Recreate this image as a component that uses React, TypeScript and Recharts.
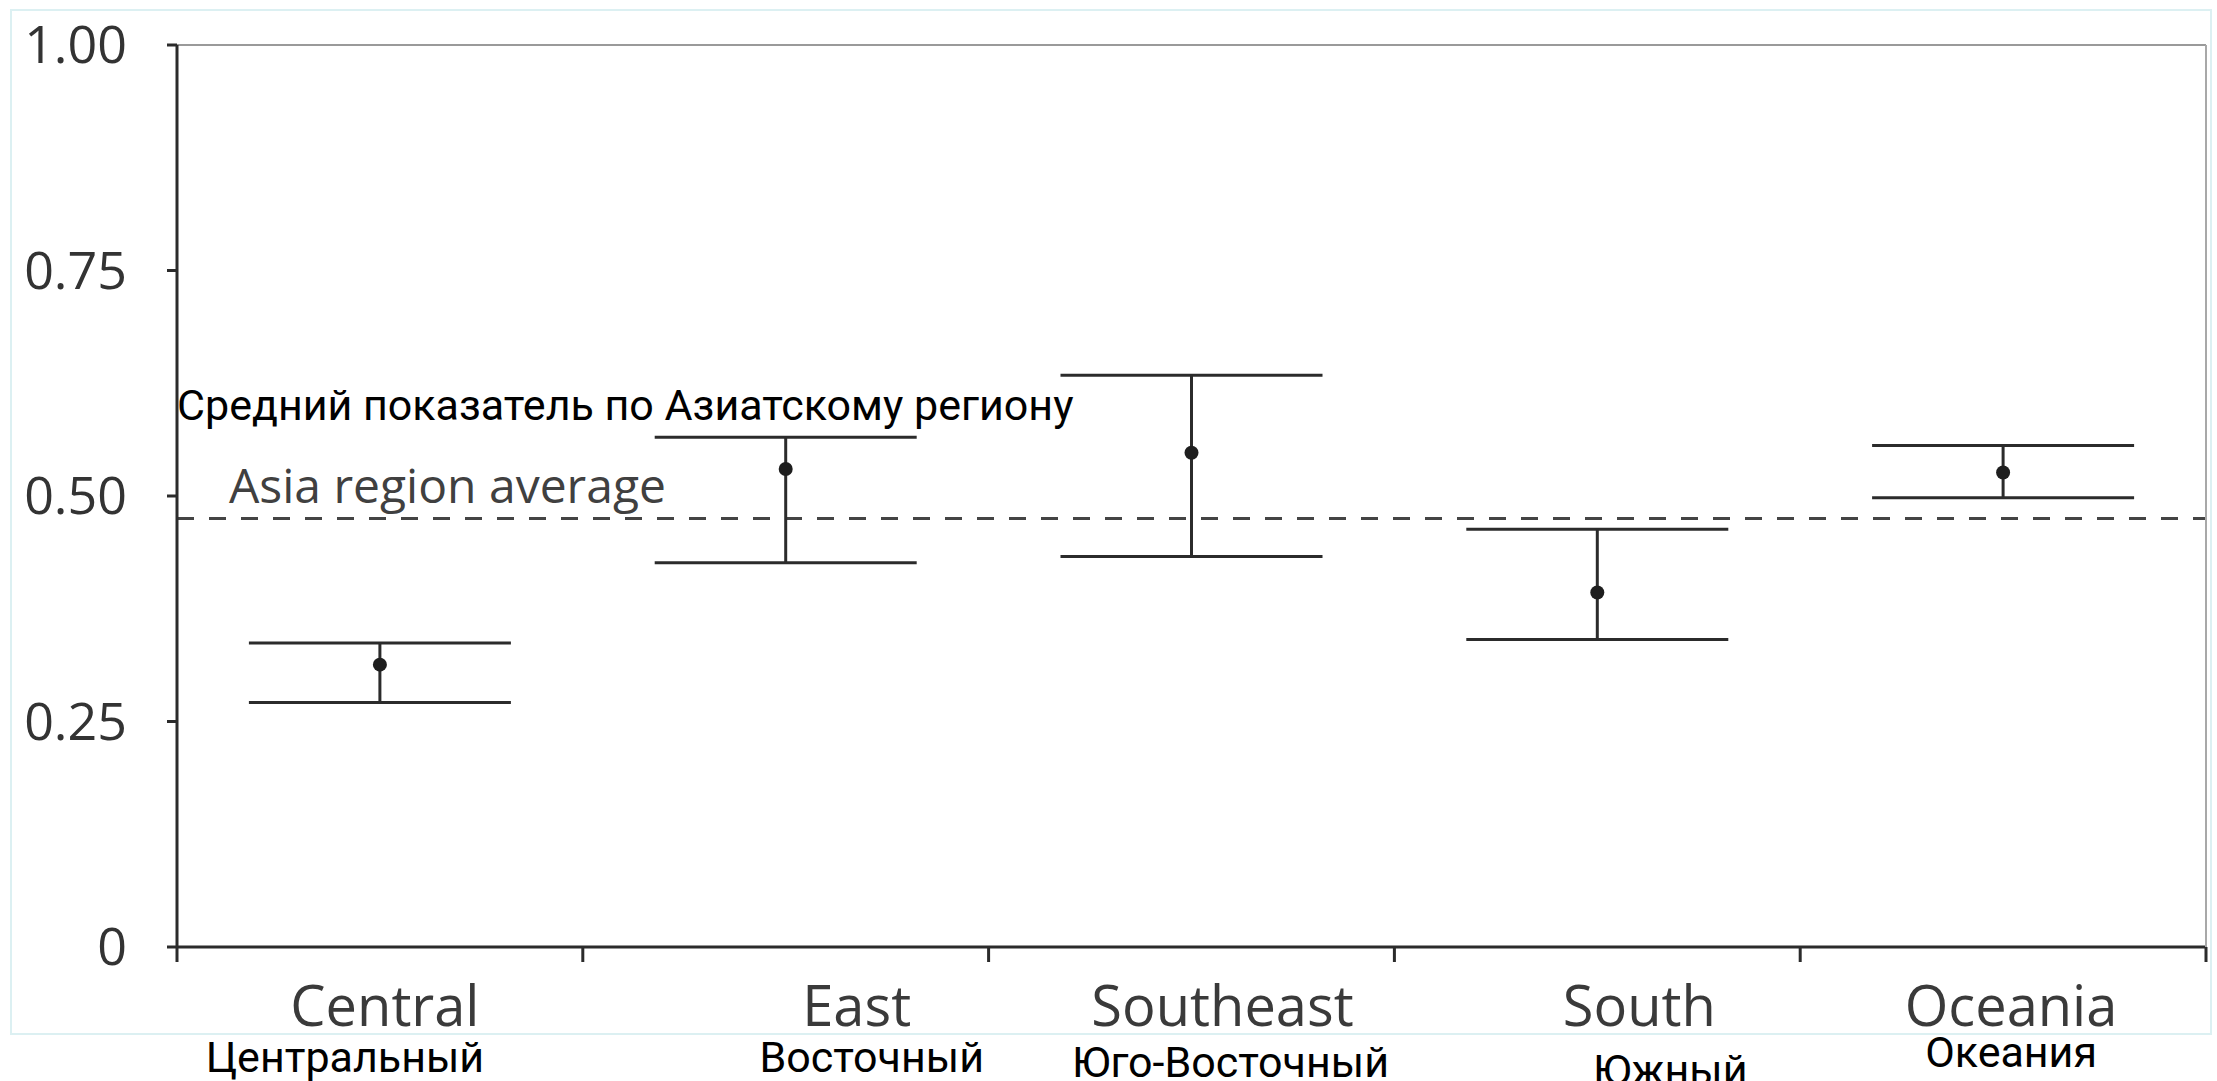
import React from 'react';
import { ComposedChart, Scatter, ErrorBar, XAxis, YAxis, ReferenceLine } from 'recharts';

// values
const regions = ['Central', 'East', 'Southeast', 'South', 'Oceania'];
const regionsRu = ['Центральный', 'Восточный', 'Юго-Восточный', 'Южный', 'Океания'];
const pointValues = [0.313, 0.53, 0.548, 0.393, 0.526];
const lowValues = [0.271, 0.426, 0.433, 0.341, 0.498];
const highValues = [0.337, 0.565, 0.634, 0.463, 0.556];
const asiaAverage = 0.475;
const yTicks = [0, 0.25, 0.5, 0.75, 1];

const data = regions.map((name, i) => ({
  name,
  value: pointValues[i],
  err: [pointValues[i] - lowValues[i], highValues[i] - pointValues[i]],
}));

// label nudges (the labels in the original are not quite centred)
const enShift = [5, 71, 31, 42, 8];
const ruShift = [-35, 86, 39, 73, 8];
const ruDrop = [125, 125, 130, 138, 120];

const INK = '#2b2b2b';
const EN_FONT = "'Open Sans', sans-serif";
const RU_FONT = "Roboto, 'Noto Sans', sans-serif";

// tick marks sit on the band edges, labels in the band middle
const RegionTick = (props: any) => {
  const { x, y, payload } = props;
  const i = props.index ?? regions.indexOf(payload.value);
  const half = payload.offset ?? 0;
  return (
    <g>
      <line x1={x - half} x2={x - half} y1={y} y2={y + 15} stroke={INK} strokeWidth={3} />
      {i === regions.length - 1 && (
        <line x1={x + half} x2={x + half} y1={y} y2={y + 15} stroke={INK} strokeWidth={3} />
      )}
      <text x={x + enShift[i]} y={y + 79} textAnchor="middle" fontFamily={EN_FONT} fontSize={56} fill="#3a3a3a">
        {payload.value}
      </text>
      <text x={x + ruShift[i]} y={y + ruDrop[i]} textAnchor="middle" fontFamily={RU_FONT} fontSize={43} fill="#000">
        {regionsRu[i]}
      </text>
    </g>
  );
};

const AvgLabel = (props: any) => {
  const { x, y } = props.viewBox;
  return (
    <g>
      <text x={x + 52} y={y - 16} fontFamily={EN_FONT} fontSize={48} fill="#404040">
        Asia region average
      </text>
      <text x={x} y={y - 99} fontFamily={RU_FONT} fontSize={43} fill="#000">
        Средний показатель по Азиатскому региону
      </text>
    </g>
  );
};

const Dot = (props: any) => <circle cx={props.cx} cy={props.cy} r={7} fill="#1e1e1e" />;

const App = () => {
  return (
    <div style={{ position: 'absolute', left: 0, top: 0, width: 2217, height: 1081, background: '#fff', overflow: 'hidden' }}>
      <div
        style={{
          position: 'absolute',
          left: 10,
          top: 9,
          width: 2202,
          height: 1026,
          border: '2px solid #dcf0f2',
          boxSizing: 'border-box',
        }}
      />
      <ComposedChart width={2217} height={1081} data={data} margin={{ top: 45, right: 10, bottom: 133, left: 0 }}>
        <XAxis
          dataKey="name"
          type="category"
          scale="band"
          height={1}
          interval={0}
          axisLine={{ stroke: INK, strokeWidth: 3 }}
          tickLine={false}
          tickSize={0}
          tickMargin={0}
          tick={<RegionTick />}
        />
        <YAxis
          type="number"
          domain={[0, 1]}
          ticks={yTicks}
          width={177}
          tickSize={10}
          tickMargin={40}
          axisLine={{ stroke: INK, strokeWidth: 3 }}
          tickLine={{ stroke: INK, strokeWidth: 3 }}
          tick={{ fontFamily: EN_FONT, fontSize: 52, fill: '#333' }}
          tickFormatter={(v: number) => (v === 0 ? '0' : v.toFixed(2))}
        />
        <YAxis
          yAxisId="frame"
          orientation="right"
          type="number"
          domain={[0, 1]}
          width={1}
          tick={false}
          tickLine={false}
          axisLine={{ stroke: '#a8a8a8', strokeWidth: 2 }}
        />
        <ReferenceLine y={1} stroke="#9a9a9a" strokeWidth={2} />
        <ReferenceLine
          y={asiaAverage}
          stroke="#444"
          strokeWidth={3}
          strokeDasharray="17 15"
          label={AvgLabel}
        />
        <Scatter dataKey="value" shape={Dot} isAnimationActive={false}>
          <ErrorBar dataKey="err" direction="y" width={131} stroke={INK} strokeWidth={3} isAnimationActive={false} />
        </Scatter>
      </ComposedChart>
    </div>
  );
};

export default App;
